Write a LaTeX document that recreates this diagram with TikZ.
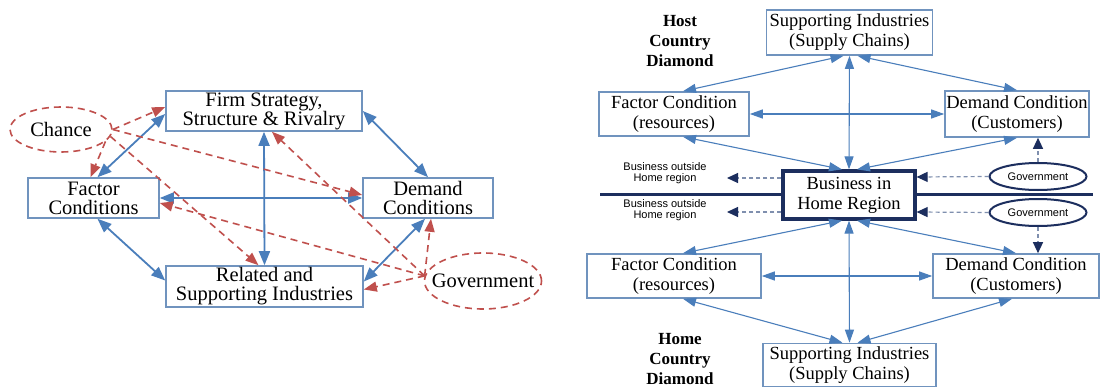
\documentclass[tikz,border=0pt]{standalone}
\usepackage{fontspec}
\setmainfont{Liberation Serif}
\newfontfamily\sansf{Liberation Sans}
\usetikzlibrary{arrows.meta,calc,shapes.geometric}
\definecolor{boxblue}{HTML}{7093BE}
\definecolor{arrblue}{HTML}{4A7EBB}
\definecolor{chred}{HTML}{C0504D}
\definecolor{navy}{HTML}{1C2E5E}
\definecolor{dashgray}{HTML}{7F8FAE}
\begin{document}
\begin{tikzpicture}[x=1pt,y=-1pt,
  lbox/.style={draw=boxblue, line width=1.6pt, fill=white, align=center, inner sep=0pt,
    font=\fontsize{20.5}{19}\selectfont},
  lell/.style={ellipse, draw=chred, dash pattern=on 7pt off 5pt, line width=1.6pt,
    inner sep=0pt, font=\fontsize{20.5}{19}\selectfont},
  barrow/.style={arrblue, line width=1.8pt,
    {Triangle[length=14pt,width=11pt]}-{Triangle[length=14pt,width=11pt]}},
  rarrow/.style={chred, line width=1.6pt, dash pattern=on 7pt off 5pt,
    -{Triangle[length=13pt,width=10pt]}},
  rbox/.style={draw=boxblue, line width=1.6pt, fill=white, align=center, inner sep=0pt,
    font=\fontsize{18.5}{20}\selectfont},
  thinarr/.style={arrblue, line width=1.1pt,
    {Triangle[length=13pt,width=9pt]}-{Triangle[length=13pt,width=9pt]}},
  navyarr/.style={dashgray, line width=1.2pt, dash pattern=on 4pt off 3pt,
    -{Triangle[length=11pt,width=10pt,color=navy]}},
  gov/.style={ellipse, draw=navy, line width=2pt, fill=white, inner sep=0pt,
    font=\sansf\fontsize{11}{11}\selectfont, minimum width=97pt, minimum height=27pt},
  sanslbl/.style={align=center, font=\sansf\fontsize{11}{11}\selectfont},
  diamondlbl/.style={align=center, font=\bfseries\fontsize{17}{20}\selectfont},
]
\path[fill=white] (0,0) rectangle (1101,388);

% ---------------- Porter's diamond (left) ----------------
\node[lbox, minimum width=196pt, minimum height=40pt] (firm) at (264,111) {Firm Strategy,\\Structure \& Rivalry};
\node[lbox, minimum width=131pt, minimum height=40pt] (factor) at (93.5,198) {Factor\\Conditions};
\node[lbox, minimum width=130pt, minimum height=40pt] (demand) at (428,198) {Demand\\Conditions};
\node[lbox, minimum width=197pt, minimum height=41pt] (related) at (264.5,286.5) {Related and\\Supporting Industries};
\node[lell, minimum width=102pt, minimum height=45pt] (chance) at (61,129.5) {Chance};
\node[lell, minimum width=117pt, minimum height=56pt, inner xsep=-12pt] (govl) at (483,281) {Government};

% links between the four determinants
\draw[barrow] ($(factor.north)+(4,0)$) -- ($(firm.west)+(0,3)$);
\draw[barrow] (firm.east) -- (demand.north);
\draw[barrow] (firm.south) -- (related.north);
\draw[barrow] (factor.east) -- (demand.west);
\draw[barrow] ($(factor.south)+(4,0)$) -- ($(related.west)+(0,-6)$);
\draw[barrow] ($(demand.south)+(-3,0)$) -- ($(related.east)+(0,-5)$);

% influence of chance and government
\draw[rarrow] (chance.east) -- ($(firm.west)+(0,-4)$);
\draw[rarrow] (chance.-15) -- ($(factor.north)+(-3,0)$);
\draw[rarrow] (chance.east) -- ($(demand.west)+(0,-3)$);
\draw[rarrow] (chance.-8) -- ($(related.north)+(-6,0)$);
\draw[rarrow] (govl.175) -- ($(firm.south)+(8,0)$);
\draw[rarrow] (govl.175) -- ($(factor.east)+(0,5)$);
\draw[rarrow] (govl.175) -- ($(demand.south)+(3,0)$);
\draw[rarrow] (govl.175) -- ($(related.east)+(0,3)$);

% ---------------- Double diamond (right) ----------------
\coordinate (lineL) at (600,194);
\coordinate (lineR) at (1093,194);
\draw[navy, line width=3pt] (lineL) -- (lineR);

\node[rbox, minimum width=166pt, minimum height=45pt] (supT) at (849.5,32.5) {Supporting Industries\\(Supply Chains)};
\node[rbox, minimum width=150pt, minimum height=44pt] (factorT) at (674,114) {Factor Condition\\(resources)};
\node[rbox, minimum width=144pt, minimum height=46pt] (demandT) at (1017,114) {Demand Condition\\(Customers)};
\node[rbox, draw=navy, line width=3.2pt, minimum width=132pt, minimum height=48pt] (biz) at (849,195) {Business in\\Home Region};
\node[rbox, minimum width=174pt, minimum height=44pt] (factorB) at (674,276) {Factor Condition\\(resources)};
\node[rbox, minimum width=166pt, minimum height=44pt] (demandB) at (1016,276) {Demand Condition\\(Customers)};
\node[rbox, minimum width=173pt, minimum height=43pt] (supB) at (849.5,365) {Supporting Industries\\(Supply Chains)};

\node[diamondlbl] (host) at (680,41) {Host\\Country\\Diamond};
\node[diamondlbl] (home) at (680,359) {Home\\Country\\Diamond};

\node[sanslbl] (outT) at (665,173) {Business outside\\Home region};
\node[sanslbl] (outB) at (665,210) {Business outside\\Home region};
\coordinate (tipT) at (727,178);
\coordinate (tipB) at (727,212);
\draw[navyarr] ($(biz.west)+(0,-17)$) -- (tipT);
\draw[navyarr] ($(biz.west)+(0,17)$) -- (tipB);

\node[gov] (govT) at (1038,176.5) {Government};
\node[gov] (govB) at (1038,212.5) {Government};
\draw[navyarr] (govT.west) -- ($(biz.east)+(0,-18)$);
\draw[navyarr] (govB.west) -- ($(biz.east)+(0,17)$);
\draw[navyarr] (govT.north) -- (govT.north |- demandT.south);
\draw[navyarr] (govB.south) -- (govB.south |- demandB.north);

% host country diamond
\draw[thinarr] ($(supT.south)+(-6,0)$) -- ($(factorT.north)+(9,0)$);
\draw[thinarr] ($(supT.south)+(8,0)$) -- (demandT.north);
\draw[thinarr] (supT.south) -- (biz.north);
\draw[thinarr] (factorT.east) -- (demandT.west);
\draw[thinarr] ($(factorT.south)+(9,0)$) -- ($(biz.north)+(-7,0)$);
\draw[thinarr] (demandT.south) -- ($(biz.north)+(8,0)$);

% home country diamond
\draw[thinarr] ($(biz.south)+(-7,0)$) -- ($(factorB.north)+(9,0)$);
\draw[thinarr] ($(biz.south)+(8,0)$) -- (demandB.north);
\draw[thinarr] (biz.south) -- (supB.north);
\draw[thinarr] (factorB.east) -- (demandB.west);
\draw[thinarr] ($(factorB.south)+(9,0)$) -- ($(supB.north)+(-7,0)$);
\draw[thinarr] ($(demandB.south)+(-4,0)$) -- ($(supB.north)+(8,0)$);
\end{tikzpicture}
\end{document}
